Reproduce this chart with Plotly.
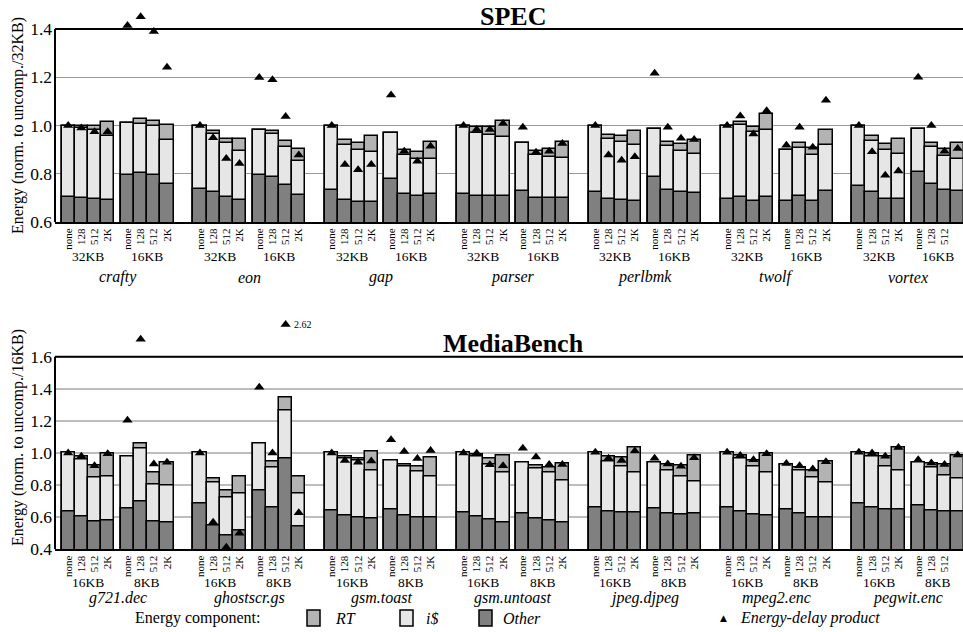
import plotly.graph_objects as go

W, H = 963, 632
FONT = "Liberation Serif, serif"

configs = ["none", "128", "512", "2K"]

# ---------------- SPEC data (per benchmark: 32KB none,128,512,2K, 16KB none,128,512,2K)
spec_benchmarks = ["crafty", "eon", "gap", "parser", "perlbmk", "twolf", "vortex"]
spec_sizes = ["32KB", "16KB"]
spec_other = [
    [0.703, 0.700, 0.696, 0.693, 0.795, 0.802, 0.794, 0.759],
    [0.739, 0.725, 0.703, 0.692, 0.795, 0.788, 0.754, 0.712],
    [0.732, 0.690, 0.685, 0.685, 0.780, 0.718, 0.707, 0.716],
    [0.716, 0.710, 0.710, 0.710, 0.730, 0.701, 0.701, 0.701],
    [0.725, 0.694, 0.692, 0.689, 0.788, 0.734, 0.726, 0.721],
    [0.696, 0.704, 0.689, 0.704, 0.689, 0.707, 0.686, 0.728],
    [0.751, 0.723, 0.696, 0.696, 0.808, 0.759, 0.732, 0.730],
]
# cumulative level: Other + i$
spec_icache_top = [
    [1.000, 0.990, 0.980, 0.958, 1.011, 1.008, 0.997, 0.942],
    [1.000, 0.966, 0.927, 0.896, 0.982, 0.966, 0.913, 0.855],
    [1.000, 0.920, 0.899, 0.891, 0.970, 0.880, 0.862, 0.863],
    [1.000, 0.970, 0.961, 0.953, 0.927, 0.878, 0.871, 0.867],
    [1.000, 0.945, 0.931, 0.921, 0.986, 0.914, 0.893, 0.882],
    [1.000, 1.003, 0.972, 0.983, 0.898, 0.909, 0.878, 0.920],
    [1.000, 0.936, 0.898, 0.884, 0.986, 0.910, 0.873, 0.863],
]
# cumulative level: Other + i$ + RT
spec_total = [
    [1.000, 1.000, 1.000, 1.017, 1.011, 1.028, 1.018, 1.003],
    [1.000, 0.979, 0.945, 0.945, 0.982, 0.979, 0.936, 0.905],
    [1.000, 0.940, 0.928, 0.959, 0.970, 0.900, 0.889, 0.931],
    [1.000, 0.993, 0.993, 1.018, 0.927, 0.896, 0.903, 0.934],
    [1.000, 0.963, 0.956, 0.976, 0.986, 0.931, 0.924, 0.939],
    [1.000, 1.017, 0.996, 1.047, 0.898, 0.927, 0.906, 0.982],
    [1.000, 0.956, 0.925, 0.945, 0.986, 0.928, 0.903, 0.927],
]
spec_edp = [
    [1.000, 0.990, 0.974, 0.974, 1.415, 1.451, 1.390, 1.241],
    [1.000, 0.949, 0.863, 0.842, 1.199, 1.190, 1.037, 0.878],
    [1.000, 0.838, 0.817, 0.838, 1.126, 0.893, 0.852, 0.914],
    [1.000, 0.983, 0.983, 1.008, 0.993, 0.889, 0.893, 0.925],
    [1.000, 0.878, 0.856, 0.870, 1.217, 0.993, 0.947, 0.942],
    [1.000, 1.039, 0.965, 1.061, 0.918, 0.993, 0.910, 1.105],
    [1.000, 0.891, 0.794, 0.811, 1.200, 1.000, 0.893, 0.905],
]

# ---------------- MediaBench data (per benchmark: 16KB none..2K, 8KB none..2K)
media_benchmarks = ["g721.dec", "ghostscr.gs", "gsm.toast", "gsm.untoast",
                    "jpeg.djpeg", "mpeg2.enc", "pegwit.enc"]
media_sizes = ["16KB", "8KB"]
media_other = [
    [0.633, 0.604, 0.573, 0.579, 0.654, 0.698, 0.571, 0.569],
    [0.688, 0.548, 0.483, 0.517, 0.769, 0.660, 0.963, 0.542],
    [0.642, 0.608, 0.600, 0.590, 0.646, 0.610, 0.596, 0.596],
    [0.629, 0.604, 0.583, 0.567, 0.625, 0.594, 0.577, 0.567],
    [0.663, 0.635, 0.627, 0.627, 0.652, 0.625, 0.619, 0.623],
    [0.663, 0.633, 0.619, 0.610, 0.646, 0.621, 0.600, 0.600],
    [0.685, 0.660, 0.648, 0.648, 0.673, 0.644, 0.633, 0.633],
]
media_icache_top = [
    [1.000, 0.958, 0.846, 0.852, 0.975, 1.029, 0.804, 0.798],
    [1.000, 0.813, 0.721, 0.750, 1.056, 0.910, 1.267, 0.746],
    [1.000, 0.963, 0.950, 0.890, 0.954, 0.913, 0.885, 0.854],
    [1.000, 0.975, 0.929, 0.881, 0.942, 0.904, 0.879, 0.829],
    [1.000, 0.948, 0.917, 0.877, 0.940, 0.892, 0.856, 0.825],
    [1.000, 0.965, 0.915, 0.877, 0.931, 0.892, 0.848, 0.819],
    [1.000, 0.975, 0.917, 0.890, 0.942, 0.908, 0.860, 0.840],
]
media_total = [
    [1.000, 0.981, 0.921, 0.996, 0.975, 1.056, 0.879, 0.942],
    [1.000, 0.842, 0.765, 0.854, 1.056, 0.948, 1.344, 0.854],
    [1.000, 0.979, 0.967, 1.008, 0.954, 0.927, 0.915, 0.973],
    [1.000, 0.992, 0.967, 0.983, 0.942, 0.921, 0.908, 0.935],
    [1.000, 0.981, 0.973, 1.033, 0.940, 0.925, 0.919, 0.985],
    [1.000, 0.983, 0.956, 0.998, 0.931, 0.910, 0.892, 0.944],
    [1.000, 0.996, 0.981, 1.035, 0.942, 0.935, 0.925, 0.985],
]
media_edp = [
    [1.000, 0.979, 0.921, 0.996, 1.204, 1.708, 0.931, 0.942],
    [1.000, 0.569, 0.412, 0.500, 1.410, 1.000, 2.620, 0.627],
    [1.000, 0.954, 0.942, 0.950, 1.083, 1.010, 0.965, 1.015],
    [1.000, 0.998, 0.927, 0.921, 1.029, 0.975, 0.929, 0.929],
    [1.004, 0.967, 0.954, 1.013, 0.967, 0.931, 0.917, 0.971],
    [1.004, 0.985, 0.958, 0.996, 0.935, 0.921, 0.900, 0.946],
    [1.004, 1.000, 0.979, 1.035, 0.958, 0.938, 0.929, 0.988],
]

spec_ticks = [0.6, 0.8, 1.0, 1.2, 1.4]
media_ticks = [0.4, 0.6, 0.8, 1.0, 1.2, 1.4, 1.6]

# ---------------- style
C_RT, C_I, C_O = "#b3b3b3", "#e6e6e6", "#808080"
EDP_CAP = 1.80  # off-scale values are drawn here with their value written beside


def px(x):
    return x / W


def py(y):
    return 1 - y / H


def slot_positions(nb):
    xs = []
    for b in range(nb):
        for g in range(2):
            for k in range(4):
                xs.append(1 + 10 * b + 4.5 * g + k)
    return xs


def flat(v):
    return [a for row in v for a in row]


fig = go.Figure()

panels = [
    dict(xa="x", ya="y", bench=spec_benchmarks, sizes=spec_sizes, ticks=spec_ticks,
         other=spec_other, icache=spec_icache_top, total=spec_total, edp=spec_edp,
         bottom_px=222.0, ppu=241.25, headroom=1.5, grid="#9a9a9a", gw=1,
         title="SPEC", title_y=16, ytitle="Energy (norm. to uncomp./32KB)", ytitle_y=126,
         size_y=257, name_y=277),
    dict(xa="x2", ya="y2", bench=media_benchmarks, sizes=media_sizes, ticks=media_ticks,
         other=media_other, icache=media_icache_top, total=media_total, edp=media_edp,
         bottom_px=549.3, ppu=160.5, headroom=1.9, grid="#bdbdbd", gw=2,
         title="MediaBench", title_y=343, ytitle="Energy (norm. to uncomp./16KB)", ytitle_y=438,
         size_y=582, name_y=598),
]

annotations = []
shapes = []
XR = [0, 68.9]
X0PX = 55

for i, p in enumerate(panels):
    xs = slot_positions(len(p["bench"]))
    lo, hi = p["ticks"][0], p["ticks"][-1]
    dom_top_px = p["bottom_px"] - (p["headroom"] - lo) * p["ppu"]
    line = dict(color="black", width=1.5)
    for vals, col in ((p["total"], C_RT), (p["icache"], C_I), (p["other"], C_O)):
        fig.add_trace(go.Bar(x=xs, y=flat(vals), width=1.0, marker=dict(color=col, line=line),
                             xaxis=p["xa"], yaxis=p["ya"], showlegend=False, hoverinfo="skip",
                             cliponaxis=True))
    edp = flat(p["edp"])
    shown = [min(v, EDP_CAP) for v in edp]
    fig.add_trace(go.Scatter(x=xs, y=shown, mode="markers", cliponaxis=False,
                             marker=dict(symbol="triangle-up", size=9, color="black"),
                             xaxis=p["xa"], yaxis=p["ya"], showlegend=False, hoverinfo="skip"))
    for x, v in zip(xs, edp):
        if v > EDP_CAP:
            annotations.append(dict(x=x + 0.45, y=EDP_CAP, xref=p["xa"], yref=p["ya"],
                                    text=f"{v:.2f}", showarrow=False, xanchor="left",
                                    yanchor="middle",
                                    font=dict(family=FONT, size=10, color="black")))
    for b, name in enumerate(p["bench"]):
        for g, s in enumerate(p["sizes"]):
            annotations.append(dict(x=1 + 10 * b + 4.5 * g + 1.5, y=py(p["size_y"]), xref=p["xa"],
                                    yref="paper", text=s, showarrow=False, xanchor="center",
                                    yanchor="middle",
                                    font=dict(family=FONT, size=13.5, color="black")))
        annotations.append(dict(x=1 + 10 * b + 3.75, y=py(p["name_y"]), xref=p["xa"], yref="paper",
                                text=f"<i>{name}</i>", showarrow=False, xanchor="center",
                                yanchor="middle",
                                font=dict(family=FONT, size=16, color="black")))
    annotations.append(dict(x=px(513), y=py(p["title_y"]), xref="paper", yref="paper",
                            text=f"<b>{p['title']}</b>", showarrow=False, xanchor="center",
                            yanchor="middle", font=dict(family=FONT, size=26, color="black")))
    annotations.append(dict(x=px(18), y=py(p["ytitle_y"]), xref="paper", yref="paper",
                            text=p["ytitle"], textangle=-90, showarrow=False, xanchor="center",
                            yanchor="middle", font=dict(family=FONT, size=16, color="black")))
    shapes.append(dict(type="line", xref="paper", yref=p["ya"], x0=px(X0PX), x1=1,
                       y0=hi, y1=hi, line=dict(color="black", width=2)))
    shapes.append(dict(type="line", xref="paper", yref=p["ya"], x0=px(X0PX), x1=px(X0PX),
                       y0=lo, y1=hi, line=dict(color="black", width=2)))

    xkey = "xaxis" if i == 0 else "xaxis2"
    ykey = "yaxis" if i == 0 else "yaxis2"
    fig.update_layout(**{
        xkey: dict(domain=[px(X0PX), 1], range=XR, anchor=p["ya"], tickvals=xs,
                   ticktext=configs * (2 * len(p["bench"])), tickangle=-90,
                   tickfont=dict(family=FONT, size=11, color="black"), showline=True,
                   linecolor="black", linewidth=2, ticks="", showgrid=False, zeroline=False,
                   automargin=False, fixedrange=True),
        ykey: dict(domain=[py(p["bottom_px"]), py(dom_top_px)], range=[lo, p["headroom"]],
                   anchor=p["xa"], tickvals=p["ticks"], ticktext=[f"{t:.1f}" for t in p["ticks"]],
                   showgrid=True, gridcolor=p["grid"], gridwidth=p["gw"], showline=False,
                   ticks="", zeroline=False, ticklabelstandoff=2,
                   tickfont=dict(family=FONT, size=17.5, color="black"), automargin=False),
    })

# ---------------- legend (drawn manually)
LEG_Y = 618
annotations.append(dict(x=px(133), y=py(LEG_Y), xref="paper", yref="paper", text="Energy component:",
                        showarrow=False, xanchor="left", yanchor="middle",
                        font=dict(family=FONT, size=16, color="black")))
for x0, col, label, tx in ((307, C_RT, "RT", 333), (400, C_I, "i$", 424), (479, C_O, "Other", 501)):
    shapes.append(dict(type="rect", xref="paper", yref="paper", x0=px(x0), x1=px(x0 + 13),
                       y0=py(LEG_Y + 8), y1=py(LEG_Y - 8), fillcolor=col,
                       line=dict(color="black", width=1.5)))
    annotations.append(dict(x=px(tx), y=py(LEG_Y), xref="paper", yref="paper", text=f"<i>{label}</i>",
                            showarrow=False, xanchor="left", yanchor="middle",
                            font=dict(family=FONT, size=16, color="black")))
annotations.append(dict(x=px(723), y=py(LEG_Y), xref="paper", yref="paper", text="▲",
                        showarrow=False, xanchor="center", yanchor="middle",
                        font=dict(family="DejaVu Sans", size=9, color="black")))
annotations.append(dict(x=px(738), y=py(LEG_Y), xref="paper", yref="paper",
                        text="<i>Energy-delay product</i>", showarrow=False, xanchor="left",
                        yanchor="middle", font=dict(family=FONT, size=16, color="black")))

fig.update_layout(width=W, height=H, margin=dict(l=0, r=0, t=0, b=0), barmode="overlay",
                  bargap=0, plot_bgcolor="white", paper_bgcolor="white",
                  annotations=annotations, shapes=shapes, showlegend=False,
                  font=dict(family=FONT, color="black"))

fig.write_html("out.html")
